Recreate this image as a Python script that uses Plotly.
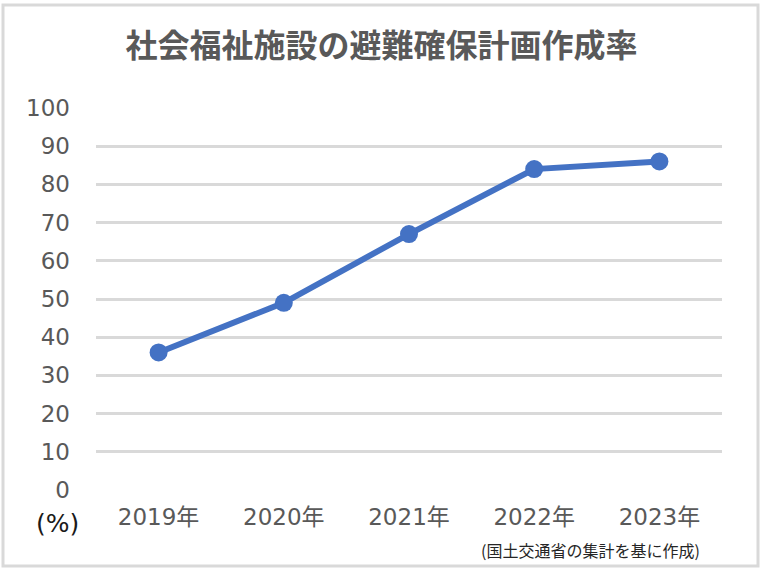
import plotly.graph_objects as go

years = ["2019年", "2020年", "2021年", "2022年", "2023年"]
rates = [36, 49, 67, 84, 86]
y_ticks = list(range(0, 101, 10))

title_text = "社会福祉施設の避難確保計画作成率"
unit_text = "(%)"
source_text = "(国土交通省の集計を基に作成)"

W, H = 763, 573
L, R, T, B = 96, 41, 108, 83
pw, ph = W - L - R, H - T - B

def px_x(x):
    return (x - L) / pw

def px_y(y):
    return (H - B - y) / ph

fig = go.Figure()
fig.add_trace(go.Scatter(
    x=years, y=rates, mode="lines+markers",
    line=dict(color="#4472C4", width=6),
    marker=dict(color="#4472C4", size=18),
    cliponaxis=False, showlegend=False,
))

font_ja = "Noto Sans CJK JP"
font_num = "DejaVu Sans, " + font_ja
fig.update_layout(
    width=W, height=H,
    margin=dict(l=L, r=R, t=T, b=B),
    paper_bgcolor="white", plot_bgcolor="white",
    title=dict(text=f"<b>{title_text}</b>", x=0.5, xanchor="center",
               y=1 - 46 / H, yanchor="middle",
               font=dict(family=font_ja, size=32, color="#595959")),
    xaxis=dict(range=[-0.5, 4.5], showgrid=False, zeroline=False, showline=False,
               tickfont=dict(family=font_num, size=23, color="#595959"),
               ticklabelstandoff=11),
    yaxis=dict(range=[0, 100], tickvals=y_ticks, showgrid=True,
               gridcolor="#d9d9d9", gridwidth=2.5, zeroline=False, showline=False,
               tickfont=dict(family=font_num, size=23, color="#595959"),
               ticklabelstandoff=25),
    annotations=[
        dict(text=unit_text, xref="paper", yref="paper", x=px_x(57), y=px_y(523),
             xanchor="center", yanchor="middle", showarrow=False,
             font=dict(family="DejaVu Sans", size=25, color="#1a1a1a")),
        dict(text=source_text, xref="paper", yref="paper", x=px_x(702), y=px_y(550),
             xanchor="right", yanchor="middle", showarrow=False,
             font=dict(family=font_ja, size=16, color="#262626")),
    ],
    shapes=[
        dict(type="rect", xref="paper", yref="paper",
             x0=px_x(3), x1=px_x(758), y0=px_y(5), y1=px_y(566),
             line=dict(color="#d9d9d9", width=3), fillcolor="rgba(0,0,0,0)", layer="below"),
    ],
)

fig.write_html("out.html")
